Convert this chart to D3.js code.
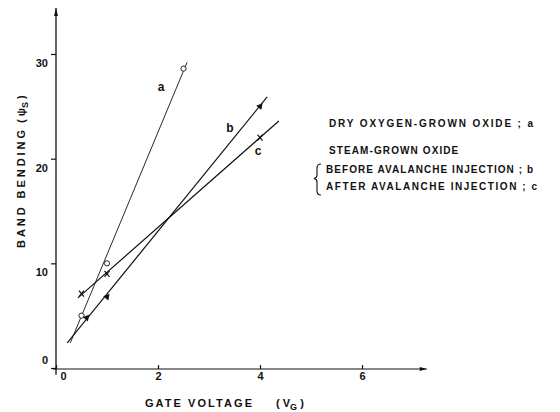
<!DOCTYPE html>
<html>
<head>
<meta charset="utf-8">
<script src="https://cdn.jsdelivr.net/npm/d3@7"></script>
<style>
  html, body { margin: 0; padding: 0; background: #fff; }
  svg { display: block; }
  text { font-family: "Liberation Sans", Arial, sans-serif; fill: #111; }
</style>
</head>
<body>
<svg id="chart" width="560" height="412"></svg>
<script>
// ---- data ----
const xTicks = [0, 2, 4, 6];
const yTicks = [0, 10, 20, 30];
const seriesNames = ["a", "b", "c"];
// measured points (gate voltage, band bending)
const aX = [0.5, 1.0, 2.5];
const aY = [5.0, 10.0, 28.6];
const bX = [0.6, 1.0, 4.0];
const bY = [4.8, 6.8, 25.0];
const cX = [0.5, 1.0, 4.0];
const cY = [7.1, 9.0, 22.0];
// fitted straight lines (end points)
const aLineX = [0.28, 2.57];
const aLineY = [2.4, 29.2];
const bLineX = [0.22, 4.14];
const bLineY = [2.4, 25.9];
const cLineX = [0.43, 4.37];
const cLineY = [6.7, 23.6];
// axis extents (with arrows)
const xAxisExtent = [-0.06, 7.27];
const yAxisExtent = [-0.65, 34.4];
const legendLines = [
  "DRY OXYGEN-GROWN OXIDE ; a",
  "STEAM-GROWN OXIDE",
  "BEFORE AVALANCHE INJECTION ; b",
  "AFTER AVALANCHE INJECTION ; c"
];

// ---- drawing ----
const svg = d3.select("#chart");
const x = d3.scaleLinear().domain([0, 6]).range([56, 362]);
const y = d3.scaleLinear().domain([0, 30]).range([368, 54]);

const ink = "#111";

// axes lines
svg.append("line")
  .attr("x1", x(xAxisExtent[0])).attr("x2", x(xAxisExtent[1]))
  .attr("y1", y(0) + 1).attr("y2", y(0) + 1)
  .attr("stroke", ink).attr("stroke-width", 1.2);
svg.append("line")
  .attr("x1", x(0)).attr("x2", x(0))
  .attr("y1", y(yAxisExtent[0])).attr("y2", y(yAxisExtent[1]))
  .attr("stroke", ink).attr("stroke-width", 1.3);
// arrowheads
const xe = x(xAxisExtent[1]), ye = y(yAxisExtent[1]);
svg.append("path")
  .attr("d", `M${xe},${y(0) + 1} L${xe - 7},${y(0) - 1} L${xe - 7},${y(0) + 3} Z`)
  .attr("fill", ink);
svg.append("path")
  .attr("d", `M${x(0)},${ye} L${x(0) - 2},${ye + 8} L${x(0) + 2},${ye + 8} Z`)
  .attr("fill", ink);

// x axis ticks & labels
const gx = svg.append("g").attr("transform", `translate(0,${y(0) + 1})`)
  .call(d3.axisBottom(x).tickValues(xTicks).tickSizeInner(-4).tickSizeOuter(0).tickFormat(d3.format("d")));
gx.select(".domain").remove();
gx.selectAll(".tick line").attr("stroke", ink).attr("stroke-width", 1.2);
gx.selectAll(".tick text")
  .attr("y", 11).attr("dy", 0)
  .attr("x", d => d === 0 ? 7 : 0)
  .style("font-size", "11px").style("font-weight", "bold")
  .attr("fill", ink);

// y axis ticks & labels
const gy = svg.append("g").attr("transform", `translate(${x(0)},0)`)
  .call(d3.axisLeft(y).tickValues(yTicks).tickSize(5).tickSizeOuter(0).tickFormat(d3.format("d")));
gy.select(".domain").remove();
gy.selectAll(".tick line").attr("stroke", ink).attr("stroke-width", 1.2);
gy.selectAll(".tick text")
  .attr("x", -8)
  .attr("dy", d => d === 0 ? "-0.4em" : "1.15em")
  .style("font-size", "11px").style("font-weight", "bold")
  .attr("fill", ink);

// axis titles
const xt = svg.append("text").attr("x", 145).attr("y", 407)
  .style("font-size", "11px").style("font-weight", "bold");
xt.append("tspan").text("GATE VOLTAGE").attr("textLength", 107).attr("lengthAdjust", "spacing");
xt.append("tspan").attr("x", 276).text("( V");
xt.append("tspan").attr("dy", 3).style("font-size", "9px").text("G");
xt.append("tspan").attr("dy", -3).text(" )");

const ytg = svg.append("g").attr("transform", "translate(25,248) rotate(-90)");
ytg.append("text").attr("x", 0).attr("y", 0)
  .style("font-size", "11px").style("font-weight", "bold")
  .attr("textLength", 118).attr("lengthAdjust", "spacing")
  .text("BAND BENDING");
const yt2 = ytg.append("text").attr("x", 125).attr("y", 0)
  .style("font-size", "11px").style("font-weight", "bold");
yt2.append("tspan").text("( ψ");
yt2.append("tspan").attr("dy", 3).style("font-size", "9px").text("S");
yt2.append("tspan").attr("dy", -3).text(" )");

// fitted lines
const lines = [
  {name: "a", xs: aLineX, ys: aLineY, w: 0.9},
  {name: "b", xs: bLineX, ys: bLineY, w: 1.2},
  {name: "c", xs: cLineX, ys: cLineY, w: 1.2}
];
lines.forEach(l => {
  svg.append("line")
    .attr("x1", x(l.xs[0])).attr("y1", y(l.ys[0]))
    .attr("x2", x(l.xs[1])).attr("y2", y(l.ys[1]))
    .attr("stroke", ink).attr("stroke-width", l.w);
});

// markers
const ptsA = aX.map((v, i) => [v, aY[i]]);
const ptsB = bX.map((v, i) => [v, bY[i]]);
const ptsC = cX.map((v, i) => [v, cY[i]]);

svg.selectAll(".ma").data(ptsA).enter().append("circle")
  .attr("cx", d => x(d[0])).attr("cy", d => y(d[1])).attr("r", 2.6)
  .attr("fill", "#fff").attr("stroke", ink).attr("stroke-width", 0.9);

svg.selectAll(".mb").data(ptsB).enter().append("path")
  .attr("transform", d => `translate(${x(d[0])},${y(d[1])}) rotate(40)`)
  .attr("d", d3.symbol().type(d3.symbolTriangle).size(20))
  .attr("fill", ink);

svg.selectAll(".mc").data(ptsC).enter().append("path")
  .attr("transform", d => `translate(${x(d[0])},${y(d[1])})`)
  .attr("d", "M-2.5,-3 L2.5,3 M2.5,-3 L-2.5,3")
  .attr("stroke", ink).attr("stroke-width", 1.2).attr("fill", "none");

// line labels
const lineLabelPos = {a: [161, 91], b: [230, 132], c: [258, 155]};
seriesNames.forEach(n => {
  svg.append("text").attr("x", lineLabelPos[n][0]).attr("y", lineLabelPos[n][1])
    .attr("text-anchor", "middle")
    .style("font-size", "12px").style("font-weight", "bold").text(n);
});

// legend text
const legendPos = [[329, 127, 204], [329, 154, 0], [326, 173, 207], [326, 190, 211]];
legendLines.forEach((t, i) => {
  const tx = svg.append("text").attr("x", legendPos[i][0]).attr("y", legendPos[i][1])
    .style("font-size", "10px").style("font-weight", "bold").text(t);
  if (legendPos[i][2]) tx.attr("textLength", legendPos[i][2]).attr("lengthAdjust", "spacing");
  else tx.style("letter-spacing", "1.1px");
});
// brace
svg.append("path")
  .attr("d", "M321,164 Q317,164 317,168 L317,175 Q317,178 314,178.5 Q317,179 317,182 L317,191 Q317,195 321,195")
  .attr("fill", "none").attr("stroke", ink).attr("stroke-width", 1.1);
</script>
</body>
</html>
